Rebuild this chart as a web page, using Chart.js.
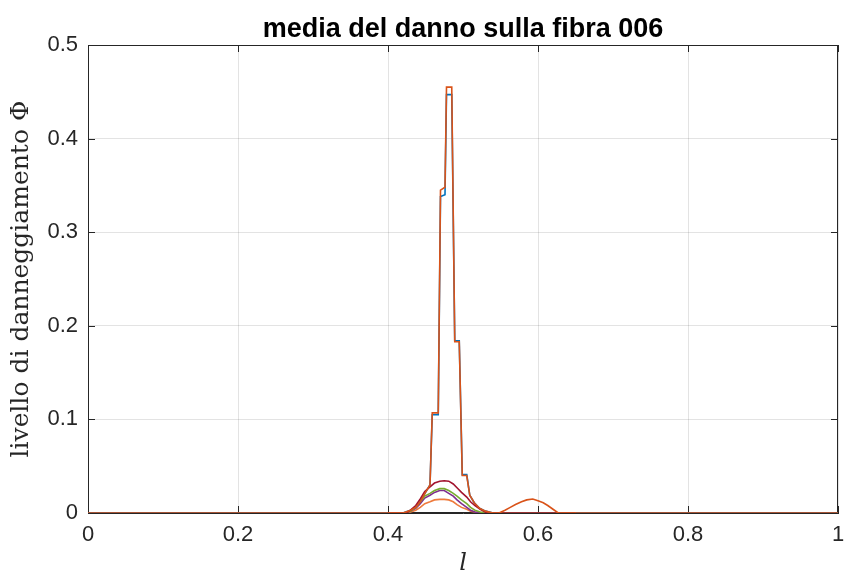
<!DOCTYPE html>
<html>
<head>
<meta charset="utf-8">
<script src="https://cdn.jsdelivr.net/npm/chart.js@4.4.0/dist/chart.umd.min.js"></script>
<style>
  html, body { margin: 0; padding: 0; background: #fff; }
</style>
</head>
<body>
<canvas id="grafico" width="845" height="575"></canvas>
<script>
/* Dati: ascissa l, livello di danno Phi. */
const lPicco = [0, 0.42, 0.43, 0.437, 0.443, 0.45, 0.456, 0.459, 0.467, 0.470, 0.476, 0.478, 0.485, 0.489, 0.495, 0.499, 0.505, 0.509, 0.515, 0.522, 0.53, 0.54, 0.548, 0.556, 0.563, 0.57, 0.578, 0.585, 0.593, 0.6, 0.607, 0.613, 0.62, 0.627, 1];
const phiArancio = [0, 0, 0.003, 0.006, 0.012, 0.022, 0.030, 0.107, 0.107, 0.345, 0.348, 0.455, 0.455, 0.183, 0.183, 0.040, 0.040, 0.019, 0.011, 0.005, 0.002, 0, 0, 0.003, 0.006, 0.009, 0.012, 0.014, 0.015, 0.013, 0.011, 0.008, 0.004, 0, 0];
const phiBlu = [0, 0, 0.003, 0.006, 0.012, 0.022, 0.030, 0.105, 0.105, 0.338, 0.340, 0.447, 0.447, 0.184, 0.184, 0.041, 0.041, 0.019, 0.011, 0.005, 0.002, 0, 0, 0, 0, 0, 0, 0, 0, 0, 0, 0, 0, 0, 0];

const lPiccolo = [0.40, 0.425, 0.43, 0.437, 0.443, 0.449, 0.456, 0.462, 0.469, 0.475, 0.481, 0.487, 0.492, 0.498, 0.505, 0.51, 0.516, 0.523, 0.532, 0.65];
const phiBordeaux = [0, 0, 0.003, 0.008, 0.015, 0.023, 0.028, 0.032, 0.034, 0.0345, 0.034, 0.031, 0.027, 0.022, 0.017, 0.012, 0.008, 0.004, 0, 0];
const phiVerde = [0, 0, 0.002, 0.006, 0.012, 0.018, 0.021, 0.024, 0.026, 0.026, 0.024, 0.021, 0.018, 0.014, 0.010, 0.006, 0.003, 0.001, 0, 0];
const phiViola = [0, 0, 0.002, 0.005, 0.010, 0.016, 0.019, 0.022, 0.024, 0.024, 0.021, 0.018, 0.014, 0.010, 0.006, 0.003, 0.001, 0, 0, 0];
const phiGiallo = [0, 0, 0.001, 0.003, 0.006, 0.010, 0.012, 0.014, 0.0146, 0.0146, 0.014, 0.012, 0.009, 0.006, 0.004, 0.002, 0.001, 0, 0, 0];

const tickX = [0, 0.2, 0.4, 0.6, 0.8, 1];
const tickY = [0, 0.1, 0.2, 0.3, 0.4, 0.5];

const ctx = document.getElementById("grafico");

const punti = (xs, ys) => xs.map((x, i) => ({ x: x, y: ys[i] }));

const serie = (dati, colore) => ({
  data: dati,
  borderColor: colore,
  backgroundColor: colore,
  borderWidth: 1.6,
  pointRadius: 0,
  tension: 0,
  fill: false,
});

/* cornice chiusa e tacche verso l'interno, stile MATLAB (sotto le curve) */
const cornice = {
  id: "cornice",
  beforeDatasetsDraw(chart) {
    const { ctx, chartArea: a, scales } = chart;
    const t = 7;
    ctx.save();
    ctx.strokeStyle = "#262626";
    ctx.lineWidth = 1;
    ctx.beginPath();
    ctx.rect(Math.round(a.left) + 0.5, Math.round(a.top) + 0.5, Math.round(a.width) - 1, Math.round(a.height) - 1);
    tickX.forEach((v) => {
      const px = Math.round(scales.x.getPixelForValue(v)) + 0.5;
      ctx.moveTo(px, a.bottom);
      ctx.lineTo(px, a.bottom - t);
      ctx.moveTo(px, a.top);
      ctx.lineTo(px, a.top + t);
    });
    tickY.forEach((v) => {
      const py = Math.round(scales.y.getPixelForValue(v)) + 0.5;
      ctx.moveTo(a.left, py);
      ctx.lineTo(a.left + t, py);
      ctx.moveTo(a.right, py);
      ctx.lineTo(a.right - t, py);
    });
    ctx.stroke();
    ctx.restore();
  },
};

const griglia = {
  color: "rgba(38,38,38,0.13)",
  lineWidth: 1,
  drawTicks: false,
};

const config = {
  type: "line",
  data: {
    datasets: [
      serie(punti(lPicco, phiArancio), "#D95319"),
      serie(punti(lPiccolo, phiBordeaux), "#A2142F"),
      serie(punti(lPiccolo, phiVerde), "#77AC30"),
      serie(punti(lPiccolo, phiViola), "#7E2F8E"),
      serie(punti(lPiccolo, phiGiallo), "#EE7A3C"),
      serie(punti(lPicco, phiBlu), "#0072BD"),
    ],
  },
  options: {
    responsive: false,
    animation: false,
    layout: { padding: { top: 4, right: 7, left: 0, bottom: 0 } },
    plugins: {
      legend: { display: false },
      tooltip: { enabled: false },
      title: {
        display: true,
        fullSize: false,
        text: "media del danno sulla fibra 006",
        color: "#000",
        font: { family: "Liberation Sans", size: 27, weight: "bold", lineHeight: 1.1 },
        padding: { top: 11, bottom: 0.3 },
      },
    },
    scales: {
      x: {
        type: "linear",
        min: 0,
        max: 1,
        afterFit: (s) => { s.height = 62; s.paddingLeft = 0; s.paddingRight = 0; },
        afterBuildTicks: (s) => { s.ticks = tickX.map((v) => ({ value: v })); },
        grid: griglia,
        border: { color: "#262626", width: 1 },
        ticks: {
          color: "#262626",
          padding: 9,
          font: { family: "Liberation Sans", size: 22 },
          callback: (v) => String(v),
        },
        title: {
          display: true,
          text: "l",
          color: "#262626",
          font: { family: "DejaVu Serif", size: 24, style: "italic", lineHeight: 0.9 },
          padding: { top: 0, bottom: 0 },
        },
      },
      y: {
        type: "linear",
        min: 0,
        max: 0.5,
        afterFit: (s) => { s.width = 88; },
        afterBuildTicks: (s) => { s.ticks = tickY.map((v) => ({ value: v })); },
        grid: griglia,
        border: { color: "#262626", width: 1 },
        ticks: {
          color: "#262626",
          padding: 10,
          font: { family: "Liberation Sans", size: 22 },
          callback: (v) => String(v),
        },
        title: {
          display: true,
          text: "livello di danneggiamento Φ",
          color: "#262626",
          font: { family: "DejaVu Serif", size: 25, lineHeight: 1.2 },
          padding: { top: 6, bottom: 0 },
        },
      },
    },
  },
  plugins: [cornice],
};

new Chart(ctx, config);
</script>
</body>
</html>
